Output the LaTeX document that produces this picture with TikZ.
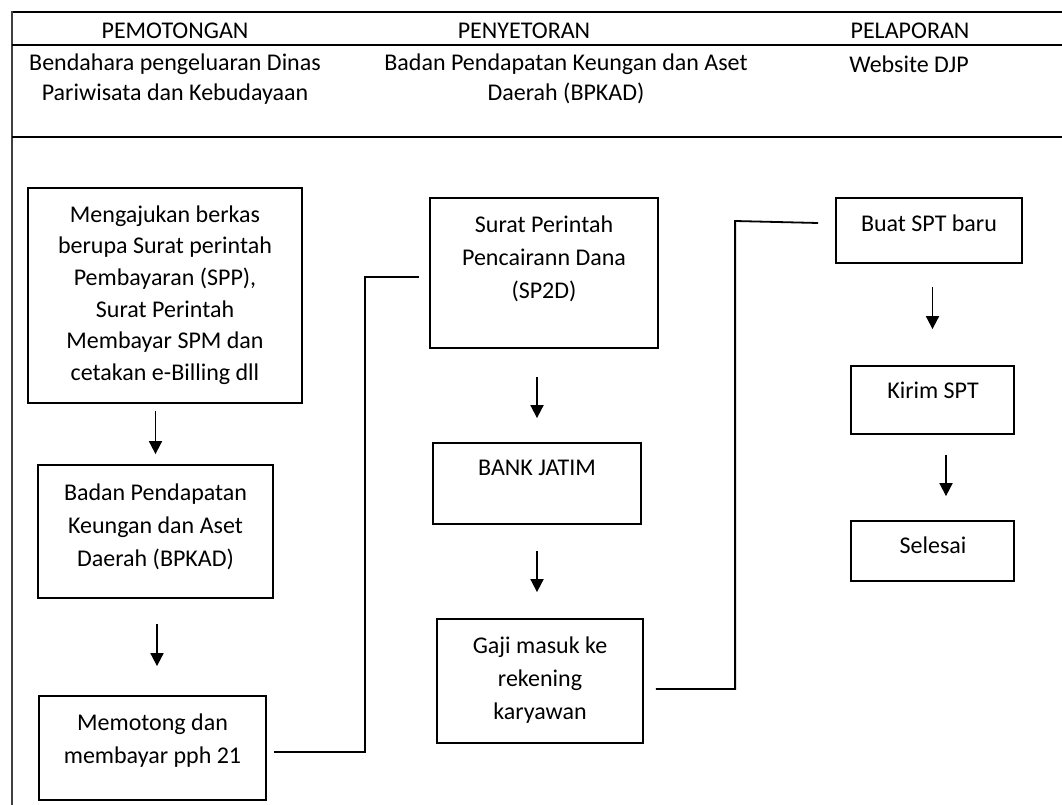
\documentclass[tikz,border=0pt]{standalone}
\usepackage{fontspec}
\setmainfont{Carlito}
\usetikzlibrary{arrows.meta}
\begin{document}
\begin{tikzpicture}[x=1pt,y=-1pt,
  box/.style={draw, line width=1.8pt, rectangle, inner sep=0pt},
  txt/.style={font=\fontsize{24}{33}\selectfont, align=center, inner sep=0pt},
  htxt/.style={font=\fontsize{24}{30.5}\selectfont, align=center, inner sep=0pt},
  arr/.style={line width=1.8pt, -{Triangle[width=13pt,length=13pt]}},
  link/.style={line width=1.8pt},
  frame/.style={line width=1.5pt}]
\useasboundingbox (0,0) rectangle (1062,805);
% table frame
\draw[line width=2.8pt] (11,12) -- (1062,12);
\draw[line width=2.2pt, black!75] (12,11) -- (12,805);
\draw[frame] (12,45) -- (1062,45);
\draw[frame] (12,137) -- (1062,137);
% headers
\node[htxt] (h1) at (175,31) {PEMOTONGAN};
\node[htxt] (h2) at (524,31) {PENYETORAN};
\node[htxt] (h3) at (910,31) {PELAPORAN};
\node[htxt] (s1) at (175,79) {Bendahara pengeluaran Dinas\\Pariwisata dan Kebudayaan};
\node[htxt] (s2) at (566,79) {Badan Pendapatan Keungan dan Aset\\Daerah (BPKAD)};
\node[htxt] (s3) at (909,64) {Website DJP};
% boxes
\node[box, minimum width=274pt, minimum height=215pt] (A) at (165,295.5) {};
\node[box, minimum width=235pt, minimum height=133pt] (B) at (155.5,531.5) {};
\node[box, minimum width=227pt, minimum height=104pt] (C) at (152.5,748) {};
\node[box, minimum width=228pt, minimum height=150pt] (D) at (544,273) {};
\node[box, minimum width=208pt, minimum height=81pt] (E) at (537,483.5) {};
\node[box, minimum width=206pt, minimum height=124pt] (F) at (540,681) {};
\node[box, minimum width=186pt, minimum height=65pt] (G) at (929,230.5) {};
\node[box, minimum width=163pt, minimum height=68pt] (H) at (932.5,400) {};
\node[box, minimum width=163pt, minimum height=60pt] (I) at (932.5,551) {};
% box texts
\node[txt, font=\fontsize{24}{31.7}\selectfont] (At) at (165,295) {Mengajukan berkas\\berupa Surat perintah\\Pembayaran (SPP),\\Surat Perintah\\Membayar SPM dan\\cetakan e-Billing dll};
\node[txt] (Bt) at (155.5,527) {Badan Pendapatan\\Keungan dan Aset\\Daerah (BPKAD)};
\node[txt] (Ct) at (152.5,741) {Memotong dan\\membayar pph 21};
\node[txt] (Dt) at (544,259) {Surat Perintah\\Pencairann Dana\\(SP2D)};
\node[txt] (Et) at (537,468) {BANK JATIM};
\node[txt] (Ft) at (540,680) {Gaji masuk ke\\rekening\\karyawan};
\node[txt] (Gt) at (929,223) {Buat SPT baru};
\node[txt] (Ht) at (933,390) {Kirim SPT};
\node[txt] (It) at (933,545) {Selesai};
% arrows
\draw[arr, shorten <=7pt, shorten >=10pt] (A.south -| B.north) -- (B.north);
\draw[arr, shorten <=25pt, shorten >=29pt] ([xshift=1.5pt]B.south) -- ([xshift=1.5pt]B.south |- C.north);
\draw[arr, shorten <=28pt, shorten >=24pt] (E.north |- D.south) -- (E.north);
\draw[arr, shorten <=26pt, shorten >=26pt] (E.south) -- (E.south |- F.north);
\draw[arr, shorten <=23pt, shorten >=36pt] (H.north |- G.south) -- (H.north);
\draw[arr, shorten <=20pt, shorten >=24pt] ([xshift=13.5pt]H.south) -- ([xshift=13.5pt]H.south |- I.north);
% connectors
\draw[link] ([shift={(7pt,-4pt)}]C.east) -| ([shift={(-64pt,-4pt)}]D.west) -- ([shift={(-10pt,-4pt)}]D.west);
\draw[link] ([shift={(12pt,-8pt)}]F.east) -| ([shift={(-100pt,9.5pt)}]G.west) -- ([shift={(-17pt,7.5pt)}]G.west);
\end{tikzpicture}
\end{document}
